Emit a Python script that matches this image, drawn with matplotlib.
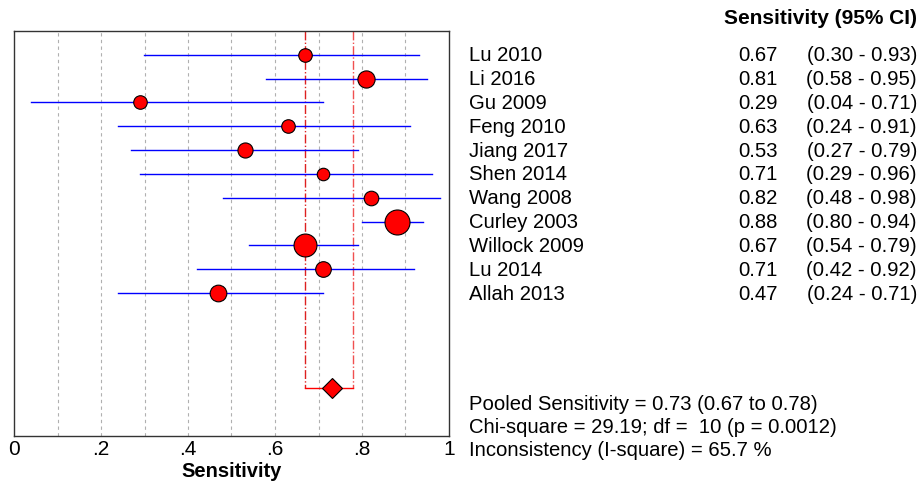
import numpy as np
import matplotlib
matplotlib.use("Agg")
import matplotlib.pyplot as plt
import matplotlib.transforms as mtransforms

plt.rcParams['font.family'] = ['Liberation Sans', 'DejaVu Sans']

# === DATOS ===
estudios = ["Lu 2010", "Li 2016", "Gu 2009", "Feng 2010", "Jiang 2017", "Shen 2014",
            "Wang 2008", "Curley 2003", "Willock 2009", "Lu 2014", "Allah 2013"]
sens = [0.67, 0.81, 0.29, 0.63, 0.53, 0.71, 0.82, 0.88, 0.67, 0.71, 0.47]
ic_bajo = [0.30, 0.58, 0.04, 0.24, 0.27, 0.29, 0.48, 0.80, 0.54, 0.42, 0.24]
ic_alto = [0.93, 0.95, 0.71, 0.91, 0.79, 0.96, 0.98, 0.94, 0.79, 0.92, 0.71]
pesos = [13, 16.5, 13, 13, 14.5, 12, 14, 24, 22, 15, 16]  # peso relativo de cada estudio

pooled = 0.73
pooled_bajo = 0.67
pooled_alto = 0.78
resumen = ["Pooled Sensitivity = 0.73 (0.67 to 0.78)",
           "Chi-square = 29.19; df =  10 (p = 0.0012)",
           "Inconsistency (I-square) = 65.7 %"]

ticks = [0, 0.2, 0.4, 0.6, 0.8, 1.0]
tick_labels = ["0", ".2", ".4", ".6", ".8", "1"]

# === FIGURA ===
W, H = 920, 485
fs = 14.6
fig = plt.figure(figsize=(W / 100, H / 100), dpi=100)
ax = fig.add_axes([14 / W, 1 - 437 / H, 435 / W, 405 / H])

filas = np.arange(1, len(estudios) + 1)
fila_pooled = 15

# rejilla vertical
for g in np.arange(0.1, 1.0, 0.1):
    ax.axvline(g, color='#b0b0b0', lw=0.8, ls=(0, (3, 3)), zorder=0)

# lineas del IC agrupado
ax.plot([pooled_bajo, pooled_bajo], [0, fila_pooled], color='#dd2020', lw=1, ls='-.', zorder=1)
ax.plot([pooled_alto, pooled_alto], [0, fila_pooled], color='#f05050', lw=1, ls='-.', zorder=1)
ax.plot([pooled_bajo, pooled_alto], [fila_pooled, fila_pooled], color='red', lw=1, zorder=1)
ax.plot([pooled], [fila_pooled], marker='D', ms=10.5, color='red', mec='black', mew=0.8, zorder=3)

# estudios
for i in range(len(estudios)):
    ax.plot([ic_bajo[i], ic_alto[i]], [filas[i], filas[i]], color='blue', lw=1, zorder=2)
    ax.plot([sens[i]], [filas[i]], marker='o', ms=pesos[i] * 0.75, color='red',
            mec='black', mew=0.8, zorder=3)

ax.set_xlim(0, 1)
ax.set_ylim(17, 0)
ax.set_yticks([])
ax.set_xticks(ticks)
ax.set_xticklabels(tick_labels, fontsize=15)
ax.tick_params(axis='x', length=0, pad=2)
ax.set_xlabel("Sensitivity", fontsize=14.5, fontweight='bold', labelpad=2)
for s in ax.spines.values():
    s.set_color('#333333')
    s.set_linewidth(1)

# === TEXTO A LA DERECHA ===
trans = mtransforms.blended_transform_factory(fig.transFigure, ax.transData)
fig.text(917 / W, 1 - 19 / H, "Sensitivity (95% CI)", fontsize=15, fontweight='bold',
         ha='right', va='center')
for i in range(len(estudios)):
    fig.text(469 / W, filas[i], estudios[i], fontsize=fs, ha='left', va='center', transform=trans)
    fig.text(778 / W, filas[i], f"{sens[i]:.2f}", fontsize=fs, ha='right', va='center', transform=trans)
    fig.text(917 / W, filas[i], f"({ic_bajo[i]:.2f} - {ic_alto[i]:.2f})", fontsize=fs,
             ha='right', va='center', transform=trans)

for j, linea in enumerate(resumen):
    fig.text(469 / W, 1 - (404 + 23.5 * j) / H, linea, fontsize=fs, ha='left', va='center')

fig.savefig("out.png", dpi=100)
